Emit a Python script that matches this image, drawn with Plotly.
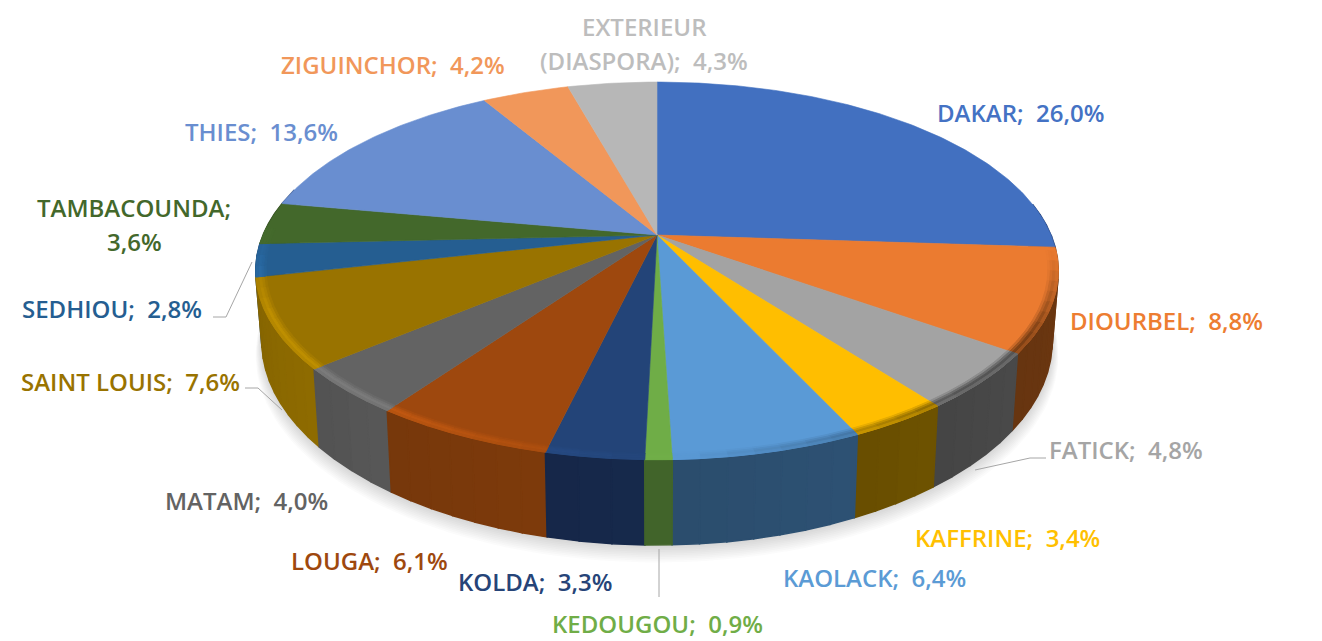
import numpy as np
import plotly.graph_objects as go

# ---- data ----
regions = ["DAKAR", "DIOURBEL", "FATICK", "KAFFRINE", "KAOLACK", "KEDOUGOU", "KOLDA", "LOUGA",
           "MATAM", "SAINT LOUIS", "SEDHIOU", "TAMBACOUNDA", "THIES", "ZIGUINCHOR", "EXTERIEUR (DIASPORA)"]
shares = [26.0, 8.8, 4.8, 3.4, 6.4, 0.9, 3.3, 6.1, 4.0, 7.6, 2.8, 3.6, 13.6, 4.2, 4.3]

# ---- styles ----
top_colors = ["#4270C0", "#EB7B30", "#A3A3A3", "#FFBE00", "#5A9AD6", "#6FAD47", "#234478", "#9E480E",
              "#636363", "#997300", "#255E91", "#43682B", "#698ED0", "#F1975A", "#B7B7B7"]
wall_colors = ["#24407A", "#6A3610", "#474747", "#6B5000", "#2C4F70", "#41642A", "#16284A", "#7A390B",
               "#555555", "#8A6800", "#1B456B", "#30491E", "#4A6494", "#A86A40", "#808080"]
label_colors = ["#4472C4", "#ED7D31", "#A5A5A5", "#FFC000", "#5B9BD5", "#70AD47", "#264478", "#9E480E",
                "#636363", "#997300", "#255E91", "#43682B", "#698ED0", "#F1975A", "#BDBDBD"]
# label anchor per region: list of (x, y) per text line
label_pos = [[(1020, 112)], [(1166, 320)], [(1126, 449)], [(1007, 537)], [(874, 577)], [(657, 623.5)],
             [(535, 581)], [(369, 560)], [(246, 500)], [(130, 381)], [(112, 308)],
             [(134, 207), (134, 241)], [(261, 131)], [(393, 64)], [(644, 26), (644, 60)]]
leaders = [[(213, 317), (226, 317), (252, 262)],
           [(245, 388), (258, 388), (282, 410)],
           [(975, 470), (1030, 458), (1046, 458)],
           [(659, 549), (659, 597)]]

# ---- projection of the pie disc (pixel space) ----
CX, W, H = 657, 1322, 641
TOP = dict(cy=235.0, a=394.0, b=182.0, p=0.19)
BOT = dict(cy=302.4, a=388.0, b=196.5, p=0.19)


def project(t_deg, r, g):
    t = np.radians(t_deg)
    X, Y = r * np.sin(t), r * np.cos(t)
    d = 1 + g["p"] * Y
    return CX + g["a"] * X / d, g["cy"] - g["b"] * Y / d


def hex2rgb(c):
    return np.array([int(c[i:i + 2], 16) for i in (1, 3, 5)], float)


def mix(c1, c2, w):
    v = hex2rgb(c1) * (1 - w) + hex2rgb(c2) * w
    return "rgb(%d,%d,%d)" % tuple(np.clip(v, 0, 255).round())


def shade(c, f):
    return "rgb(%d,%d,%d)" % tuple(np.clip(hex2rgb(c) * f, 0, 255).round())


fig = go.Figure()


def poly(xs, ys, color, lw=0.6):
    fig.add_trace(go.Scatter(x=list(xs), y=list(ys), mode="lines", fill="toself", fillcolor=color,
                             line=dict(color=color, width=lw), hoverinfo="skip", showlegend=False))


total = sum(shares)
edges = np.concatenate([[0], np.cumsum(shares)]) / total * 360

# soft ground shadow
tt = np.linspace(0, 360, 181)
for k in range(10, 0, -1):
    g = dict(BOT, cy=BOT["cy"] + k * 1.3)
    x, y = project(tt, 1 + k * 0.0015, g)
    poly(x, y, "rgba(70,70,70,0.022)", lw=0)

# side wall, painted back to front, segmented for a gentle gradient
order = sorted(range(len(shares)), key=lambda i: -abs((edges[i] + edges[i + 1]) / 2 - 180))
for i in order:
    t0, t1 = edges[i], edges[i + 1]
    lo, hi = max(t0, 80), min(t1, 285)
    if hi <= lo:
        continue
    n = max(1, int((hi - lo) / 3))
    ts = np.linspace(lo, hi, n + 1)
    for a, b in zip(ts[:-1], ts[1:]):
        seg = np.linspace(a, b, 3)
        xt, yt = project(seg, 1, TOP)
        xb, yb = project(seg[::-1], 1, BOT)
        mid = (a + b) / 2
        f = 1 + 0.06 * ((t1 - mid) / max(t1 - t0, 1e-6) - 0.5)
        poly(np.r_[xt, xb, xt[0]], np.r_[yt, yb, yt[0]], shade(wall_colors[i], f), lw=1.5)

# top face
for i in range(len(shares)):
    ts = np.linspace(edges[i], edges[i + 1], max(3, int(shares[i] * 5)))
    x, y = project(ts, 1, TOP)
    poly(np.r_[CX, x, CX], np.r_[TOP["cy"], y, TOP["cy"]], top_colors[i])

# bevel on the front rim: highlight to the left, shadow to the right
bands = [(0.975, 0.981, 0.3), (0.981, 0.987, 0.7), (0.987, 0.994, 1.0), (0.994, 1.0, 0.75)]
for i in range(len(shares)):
    t0, t1 = edges[i], edges[i + 1]
    lo, hi = max(t0, 95), min(t1, 272)
    if hi <= lo:
        continue
    n = max(1, int((hi - lo) / 3))
    ts = np.linspace(lo, hi, n + 1)
    for a, b in zip(ts[:-1], ts[1:]):
        mid = (a + b) / 2
        h = np.clip((mid - 178) / 40, -1, 1)
        fade = np.clip(min(mid - 95, 272 - mid) / 25, 0, 1)
        for r0, r1, k in bands:
            seg = np.linspace(a, b, 3)
            xo, yo = project(seg, r1, TOP)
            xi, yi = project(seg[::-1], r0, TOP)
            if h >= 0:
                c = shade(top_colors[i], 1 + 0.24 * h * k * fade)
            else:
                c = mix(top_colors[i], wall_colors[i], 0.85 * (-h) * k * fade)
            poly(np.r_[xo, xi, xo[0]], np.r_[yo, yi, yo[0]], c, lw=1)

# leader lines
for pts in leaders:
    fig.add_trace(go.Scatter(x=[p[0] for p in pts], y=[p[1] for p in pts], mode="lines",
                             line=dict(color="#A6A6A6", width=1), hoverinfo="skip", showlegend=False))

# data labels, built from the values
annotations = []
for name, val, col, pos in zip(regions, shares, label_colors, label_pos):
    text = f"{name};\u00a0\u00a0{val:.1f}%".replace(".", ",")
    if name == "TAMBACOUNDA":
        lines = [f"{name};", f"{val:.1f}%".replace(".", ",")]
    elif name.startswith("EXTERIEUR"):
        first, second = name.split(" ")
        lines = [first, f"{second};\u00a0\u00a0{val:.1f}%".replace(".", ",")]
    else:
        lines = [text]
    for line, (x, y) in zip(lines, pos):
        annotations.append(dict(x=x, y=y, xref="x", yref="y", text=line, showarrow=False,
                                xanchor="center", yanchor="middle",
                                font=dict(family="Open Sans", size=24, color=col, weight=600)))

fig.update_layout(
    width=W, height=H, margin=dict(l=0, r=0, t=0, b=0),
    paper_bgcolor="white", plot_bgcolor="white", showlegend=False,
    xaxis=dict(range=[0, W], visible=False, fixedrange=True),
    yaxis=dict(range=[H, 0], visible=False, fixedrange=True),
    annotations=annotations,
)
fig.write_html("out.html", config=dict(displayModeBar=False),
               post_script="document.body.style.margin='0';document.body.style.overflow='hidden';")
